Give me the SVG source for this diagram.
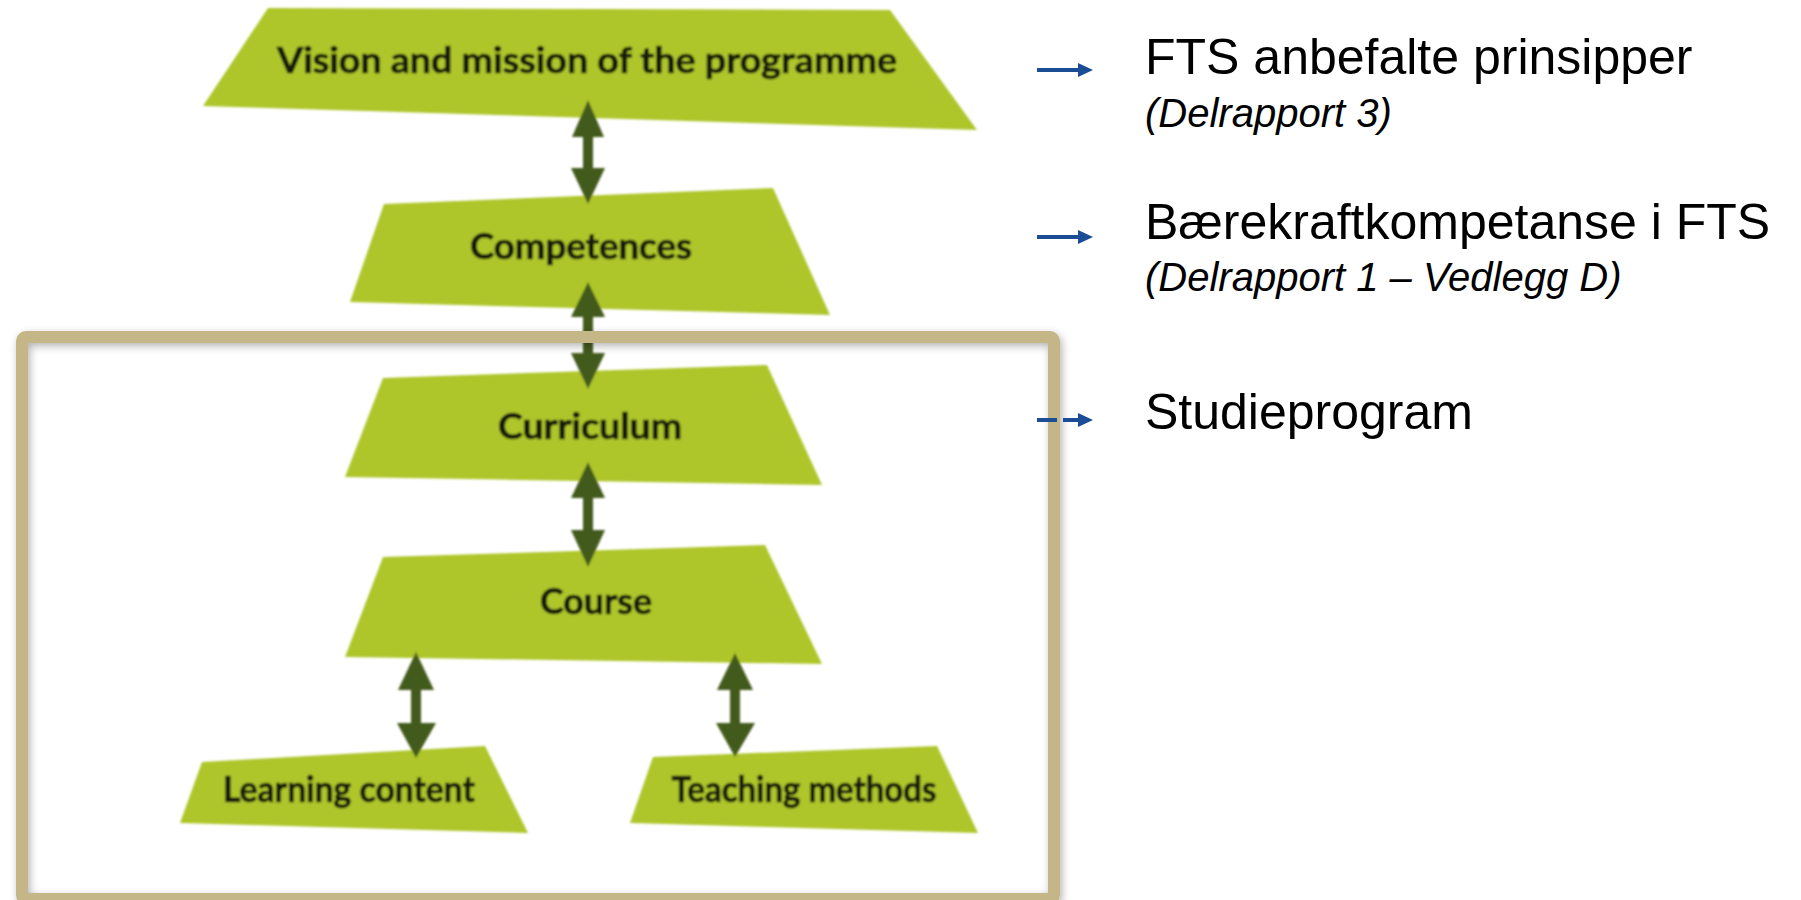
<svg xmlns="http://www.w3.org/2000/svg" width="1801" height="900" viewBox="0 0 1801 900">
  <defs>
    <!-- slight softness of the raster diagram -->
    <filter id="soft" x="-5%" y="-5%" width="110%" height="110%">
      <feGaussianBlur stdDeviation="0.9"/>
    </filter>
    <!-- soft shadow under the frame -->
    <filter id="frameShadow" x="-5%" y="-5%" width="110%" height="110%">
      <feGaussianBlur in="SourceAlpha" stdDeviation="4"/>
      <feOffset dx="2" dy="3" result="blur"/>
      <feComponentTransfer in="blur" result="shadow">
        <feFuncA type="linear" slope="0.3"/>
      </feComponentTransfer>
      <feMerge>
        <feMergeNode in="shadow"/>
        <feMergeNode in="SourceGraphic"/>
      </feMerge>
    </filter>
  </defs>
  <style>
    .shape { fill: #AEC62C; }
    .label { font-family: Lato, "Open Sans", "DejaVu Sans", sans-serif; font-weight: 700; font-size: 36px; fill: #141A0A; stroke: #141A0A; stroke-width: 0.7; text-anchor: middle; }
    .dbl { fill: #435A1B; }
    .side { font-family: "Liberation Sans", Arial, sans-serif; fill: #000; }
    .main { font-size: 50px; }
    .sub { font-size: 40px; font-style: italic; }
    .ptr { stroke: #1B4C96; stroke-width: 4; fill: none; }
    .ptrHead { fill: #1B4C96; }
    .frame { fill: none; stroke: #C5B687; stroke-width: 12; }
  </style>

  <rect width="1801" height="900" fill="#FFFFFF"/>

  <!-- pyramid of levels -->
  <g id="diagram" filter="url(#soft)">
    <g id="node-vision">
      <polygon class="shape" points="268,8 890,10 977,130 203,106"/>
      <text class="label" x="587" y="73" textLength="620" lengthAdjust="spacingAndGlyphs">Vision and mission of the programme</text>
    </g>
    <g id="node-competences">
      <polygon class="shape" points="384,204 773,188 830,315 350,302"/>
      <text class="label" x="581" y="259" textLength="222" lengthAdjust="spacingAndGlyphs">Competences</text>
    </g>
    <g id="node-curriculum">
      <polygon class="shape" points="383,378 767,365 822,485 345,477"/>
      <text class="label" x="590" y="439" textLength="184" lengthAdjust="spacingAndGlyphs">Curriculum</text>
    </g>
    <g id="node-course">
      <polygon class="shape" points="383,557 765,545 822,664 345,657"/>
      <text class="label" x="596" y="614" textLength="112" lengthAdjust="spacingAndGlyphs">Course</text>
    </g>
    <g id="node-learning">
      <polygon class="shape" points="202,762 485,746 528,833 180,823"/>
      <text class="label" x="349" y="802" textLength="252" lengthAdjust="spacingAndGlyphs">Learning content</text>
    </g>
    <g id="node-teaching">
      <polygon class="shape" points="653,757 937,746 978,833 630,823"/>
      <text class="label" x="804" y="802" textLength="265" lengthAdjust="spacingAndGlyphs">Teaching methods</text>
    </g>

    <!-- two-headed connectors -->
    <g id="connectors">
      <polygon class="dbl" points="588,100 604,137 593,137 593,168 605,168 588,204 571,168 583,168 583,137 572,137"/>
      <polygon class="dbl" points="588,282 605,317 593,317 593,353 605,353 588,389 571,353 583,353 583,317 571,317"/>
      <polygon class="dbl" points="588,462 605,498 593,498 593,530 605,530 588,567 571,530 583,530 583,498 571,498"/>
      <polygon class="dbl" points="416,652 434,690 421,690 421,723 436,723 416,758 397,723 411,723 411,690 398,690"/>
      <polygon class="dbl" points="735,653 753,690 740,690 740,723 755,723 735,757 716,723 730,723 730,690 717,690"/>
    </g>
  </g>

  <!-- frame around the programme-level part -->
  <g id="frame-studieprogram" filter="url(#frameShadow)">
    <rect class="frame" x="22" y="337" width="1032" height="562" rx="4"/>
  </g>

  <!-- pointers to the side notes -->
  <g id="pointers">
    <line class="ptr" x1="1037" y1="70" x2="1080" y2="70"/>
    <polygon class="ptrHead" points="1078,63 1093,70 1078,77"/>
    <line class="ptr" x1="1037" y1="237" x2="1080" y2="237"/>
    <polygon class="ptrHead" points="1078,230 1093,237 1078,244"/>
    <line class="ptr" x1="1037" y1="420" x2="1080" y2="420" stroke-dasharray="20 6"/>
    <polygon class="ptrHead" points="1078,413 1093,420 1078,427"/>
  </g>

  <!-- side notes -->
  <g id="note-principles">
    <text class="side main" x="1145" y="74">FTS anbefalte prinsipper</text>
    <text class="side sub" x="1145" y="127">(Delrapport 3)</text>
  </g>
  <g id="note-competence">
    <text class="side main" x="1145" y="239">Bærekraftkompetanse i FTS</text>
    <text class="side sub" x="1145" y="291">(Delrapport 1 – Vedlegg D)</text>
  </g>
  <g id="note-programme">
    <text class="side main" x="1145" y="429">Studieprogram</text>
  </g>
</svg>
